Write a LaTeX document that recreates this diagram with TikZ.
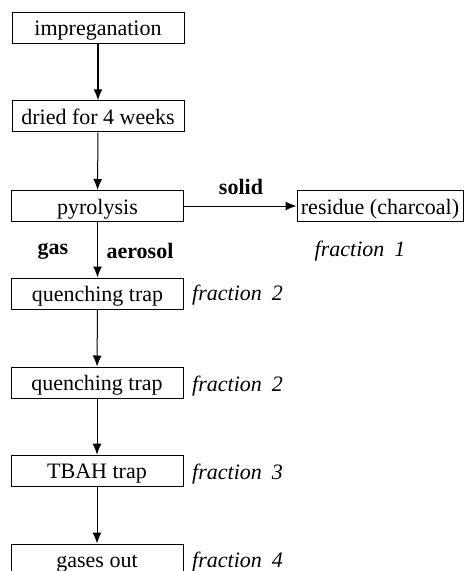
\documentclass[tikz,border=0pt]{standalone}
\usepackage{fontspec}
\setmainfont{Liberation Serif}
\usetikzlibrary{arrows.meta}
\begin{document}
\begin{tikzpicture}[x=1pt,y=-1pt,
  font=\fontsize{22}{24}\selectfont,
  stepbox/.style={draw,line width=1pt,minimum width=172pt,minimum height=31pt,inner sep=0pt,text height=17pt,text depth=1pt},
  arr/.style={line width=1pt,-{Latex[length=11pt,width=9pt]}},
  lbl/.style={inner sep=0pt,font=\fontsize{22}{24}\selectfont\bfseries},
  frac/.style={inner sep=0pt,font=\fontsize{22}{24}\selectfont\itshape}]
\useasboundingbox (0,0) rectangle (464,571);
\clip (0,0) rectangle (464,571);
\node[stepbox] (b1) at (98,27.8) {impreganation};
\node[stepbox] (b2) at (98,116.3) {dried for 4 weeks};
\node[stepbox] (b3) at (97.5,206) {pyrolysis};
\node[stepbox,minimum width=166pt] (res) at (380,206) {residue (charcoal)};
\node[stepbox] (q1) at (97.5,293.5) {quenching trap};
\node[stepbox] (q2) at (97,382.5) {quenching trap};
\node[stepbox] (tb) at (97,470.7) {TBAH trap};
\node[stepbox] (go) at (97,559.5) {gases out};
\draw[arr,line width=1.6pt] (b1) -- (b2);
\draw[arr] (b2) -- (b3);
\draw[arr] (b3) -- (res);
\draw[arr] (b3) -- (q1);
\draw[arr] (q1) -- (q2);
\draw[arr] (q2) -- (tb);
\draw[arr] (tb) -- (go);
\node[lbl] (solid) at (241,187) {solid};
\node[lbl] (gas) at (53,251) {gas};
\node[lbl] (aer) at (140,251) {aerosol};
\node[frac] (f1) at (360,251) {fraction\hspace{0.45em}1};
\node[frac,anchor=west] (f2a) at (192,295) {fraction\hspace{0.45em}2};
\node[frac,anchor=west] (f2b) at (192,386) {fraction\hspace{0.45em}2};
\node[frac,anchor=west] (f3) at (192,474) {fraction\hspace{0.45em}3};
\node[frac,anchor=west] (f4) at (192,562) {fraction\hspace{0.45em}4};
\end{tikzpicture}
\end{document}
